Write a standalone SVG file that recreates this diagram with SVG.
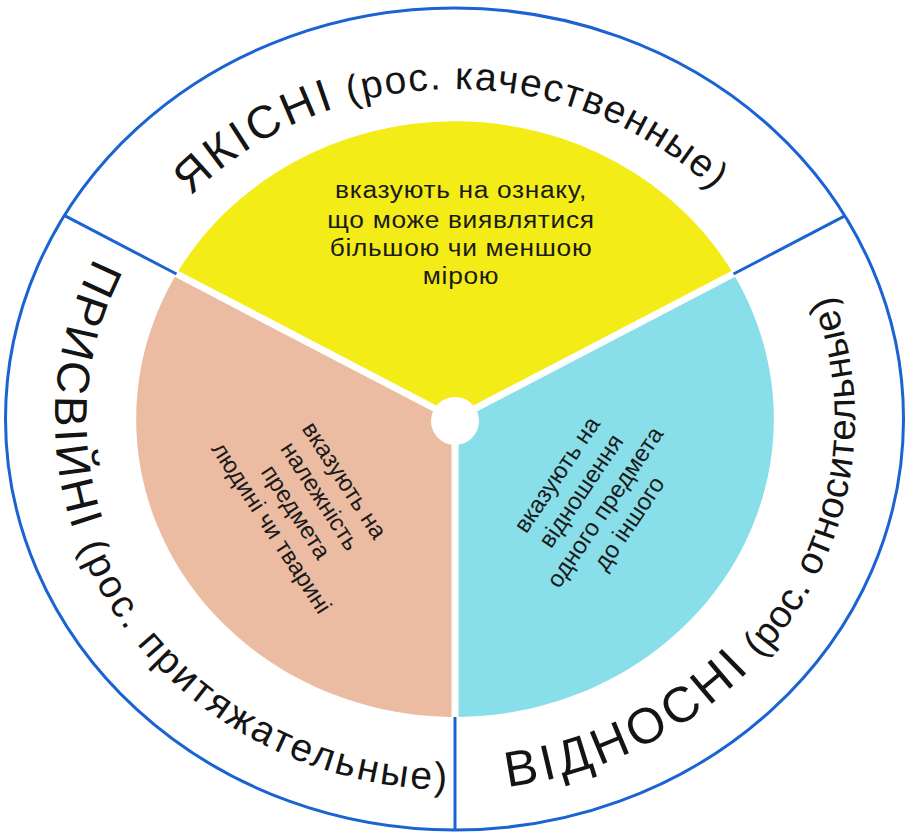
<svg xmlns="http://www.w3.org/2000/svg" width="908" height="834" viewBox="0 0 908 834">
<style>
.lbl{font-family:"Liberation Sans",Arial,sans-serif;fill:#141414}
.cap{font-size:46px;letter-spacing:3.5px}
.low{font-size:39px;letter-spacing:1.5px}
.desc{font-family:"Liberation Sans",Arial,sans-serif;fill:#1a1a1a;text-anchor:middle}
.line{stroke:#1b63d3;stroke-width:3;fill:none}
.gap{stroke:#fff;stroke-width:7;stroke-linecap:round}
</style>
<defs>
<path id="pTop" d="M191.1,196.1 A358,330 0 0 1 765,254"/>
<path id="pLeft" d="M94.6,258 A400,371 0 0 0 524.5,784.4"/>
<path id="pRight" d="M507.2,786.8 A400,371 0 0 0 782.7,206.2"/>
</defs>
<rect width="908" height="834" fill="#fff"/>
<g id="ring">
<ellipse cx="454.5" cy="419" rx="449" ry="411" fill="#fff"/>
<ellipse cx="454.5" cy="419" rx="449" ry="411" class="line"/>
</g>
<g id="sector-yakisni">
<path d="M455,419 L176.5,274 A319,298 0 0 1 733.5,274 Z" fill="#f4ec16"/>
<text class="desc" font-size="23.5" letter-spacing="0.6" transform="translate(461,0) scale(1.12,1)"><tspan x="0" y="198.5">вказують на ознаку,</tspan><tspan x="0" y="228">що може виявлятися</tspan><tspan x="0" y="256">більшою чи меншою</tspan><tspan x="0" y="284">мірою</tspan></text>
<text class="lbl"><textPath href="#pTop"><tspan class="cap">ЯКІСНІ</tspan><tspan class="low"> (рос. качественные)</tspan></textPath></text>
</g>
<g id="sector-prysviyni">
<path d="M455,419 L455,717 A319,298 0 0 1 176.5,274 Z" fill="#ebbca2"/>
<text class="desc" font-size="24" transform="translate(308,504) rotate(57)"><tspan x="0" y="-35.5">вказують на</tspan><tspan x="0" y="-6.5">належність</tspan><tspan x="0" y="22.5">предмета</tspan><tspan x="0" y="51.5">людині чи тварині</tspan></text>
<text class="lbl"><textPath href="#pLeft"><tspan class="cap">ПРИСВІЙНІ</tspan><tspan class="low" style="letter-spacing:2.7px"> (рос. притяжательные)</tspan></textPath></text>
</g>
<g id="sector-vidnosni">
<path d="M455,419 L733.5,274 A319,298 0 0 1 455,717 Z" fill="#88dee9"/>
<text class="desc" font-size="24" transform="translate(593,499) rotate(-56)"><tspan x="0" y="-35.5">вказують на</tspan><tspan x="0" y="-6.5">відношення</tspan><tspan x="0" y="22.5">одного предмета</tspan><tspan x="0" y="51.5">до іншого</tspan></text>
<text class="lbl"><textPath href="#pRight"><tspan class="cap" style="font-size:50px;letter-spacing:4.5px">ВІДНОСНІ</tspan><tspan class="low" style="font-size:38.5px;letter-spacing:0.5px"> (рос. относительные)</tspan></textPath></text>
</g>
<g id="connectors">
<line class="gap" x1="455" y1="419" x2="175" y2="273"/>
<line class="gap" x1="455" y1="419" x2="735" y2="273"/>
<line class="gap" x1="455" y1="419" x2="455" y2="719"/>
<circle cx="455" cy="421" r="24" fill="#fff"/>
<line class="line" x1="64.7" y1="215.7" x2="176.5" y2="274"/>
<line class="line" x1="845.3" y1="215.7" x2="733.5" y2="274"/>
<line class="line" x1="455" y1="717" x2="455" y2="830"/>
</g>
</svg>
